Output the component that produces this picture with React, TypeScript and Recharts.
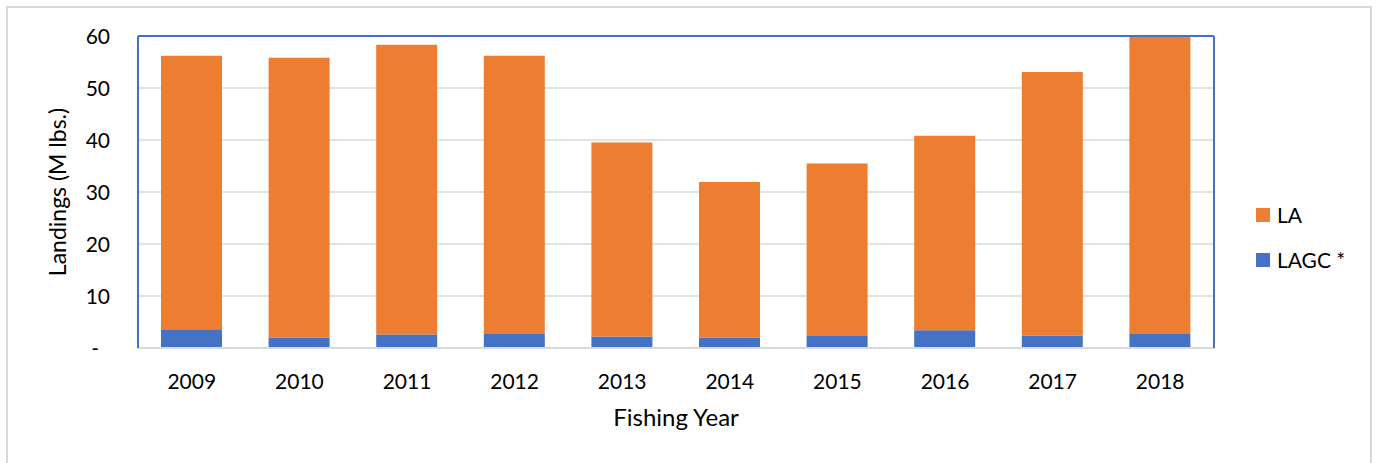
import React from "react";
import {
  BarChart,
  Bar,
  XAxis,
  YAxis,
  CartesianGrid,
  Legend,
} from "recharts";

const years = ["2009", "2010", "2011", "2012", "2013", "2014", "2015", "2016", "2017", "2018"];
const laValues = [52.6, 53.8, 55.7, 53.5, 37.3, 29.9, 33.2, 37.4, 50.7, 57.2];
const lagcValues = [3.6, 2.0, 2.6, 2.7, 2.2, 2.0, 2.3, 3.4, 2.4, 2.7];
const yTicks = [0, 10, 20, 30, 40, 50, 60];

const seriesNames = { la: "LA", lagc: "LAGC *" };

const ORANGE = "#ED7D31";
const BLUE = "#4472C4";
const GRID = "#d9d9d9";
const FONT = "Lato, 'Open Sans', sans-serif";

const data = years.map((year, i) => ({
  year,
  lagc: lagcValues[i],
  la: laValues[i],
}));

// Excel accounting style: zero shows as a dash, pushed left a bit
function YTick(props: any) {
  const { x, y, payload } = props;
  const isZero = payload.value === 0;
  return (
    <text
      x={isZero ? x - 11 : x}
      y={y}
      dy="0.36em"
      textAnchor="end"
      fill="#000"
      fontSize={21}
    >
      {isZero ? "-" : payload.value}
    </text>
  );
}

function LegendBox() {
  const items = [
    { name: seriesNames.la, color: ORANGE },
    { name: seriesNames.lagc, color: BLUE },
  ];
  return (
    <div>
      {items.map((it) => (
        <div
          key={it.name}
          style={{ display: "flex", alignItems: "center", height: 45, fontSize: 21, color: "#000" }}
        >
          <span style={{ width: 14, height: 14, background: it.color, marginRight: 7, display: "inline-block" }} />
          <span>{it.name}</span>
        </div>
      ))}
    </div>
  );
}

export default function App() {
  return (
    <div style={{ position: "absolute", left: 0, top: 0, width: 1377, height: 463, overflow: "hidden", fontFamily: FONT, background: "#fff" }}>
      <div
        style={{
          position: "absolute",
          left: 6,
          top: 6,
          width: 1366,
          height: 470,
          border: `2px solid ${GRID}`,
          boxSizing: "border-box",
        }}
      />
      <div style={{ position: "absolute", left: 0, top: 0 }}>
        <BarChart
          width={1377}
          height={463}
          data={data}
          margin={{ top: 35, right: 162, left: 38, bottom: 35 }}
        >
          <CartesianGrid vertical={false} stroke={GRID} strokeWidth={1.5} />
          <XAxis
            dataKey="year"
            height={80}
            tickLine={false}
            tickSize={0}
            tickMargin={26}
            axisLine={{ stroke: GRID, strokeWidth: 2 }}
            tick={{ fill: "#000", fontSize: 21 }}
            label={{ value: "Fishing Year", position: "insideBottom", offset: 2, fill: "#000", fontSize: 24 }}
          />
          <XAxis
            xAxisId="top"
            dataKey="year"
            orientation="top"
            height={1}
            tick={false}
            tickLine={false}
            axisLine={{ stroke: BLUE, strokeWidth: 2 }}
          />
          <YAxis
            width={100}
            domain={[0, 60]}
            ticks={yTicks}
            interval={0}
            tickLine={false}
            tickSize={0}
            tickMargin={28}
            axisLine={{ stroke: BLUE, strokeWidth: 2 }}
            tick={<YTick />}
            label={{
              value: "Landings (M lbs.)",
              angle: -90,
              position: "insideLeft",
              offset: 20,
              fill: "#000",
              fontSize: 23,
              style: { textAnchor: "middle" },
            }}
          />
          <YAxis
            yAxisId="right"
            orientation="right"
            width={1}
            domain={[0, 60]}
            tick={false}
            tickLine={false}
            axisLine={{ stroke: BLUE, strokeWidth: 2 }}
          />
          <Legend
            layout="horizontal"
            align="center"
            verticalAlign="middle"
            wrapperStyle={{ position: "absolute", left: 1256, top: 192, width: 120 }}
            content={<LegendBox />}
          />
          <Bar dataKey="lagc" name={seriesNames.lagc} stackId="a" fill={BLUE} barSize={61} isAnimationActive={false} />
          <Bar dataKey="la" name={seriesNames.la} stackId="a" fill={ORANGE} barSize={61} isAnimationActive={false} />
        </BarChart>
      </div>
    </div>
  );
}
